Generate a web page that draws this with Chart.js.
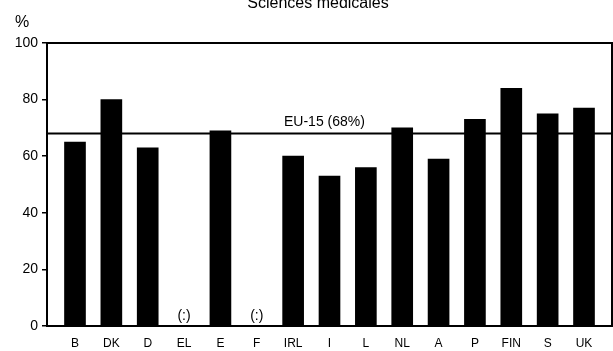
<!DOCTYPE html>
<html>
<head>
<meta charset="utf-8">
<script src="https://cdn.jsdelivr.net/npm/chart.js@4"></script>
<style>
  body { margin: 0; background: #fff; }
  #wrap { width: 613px; height: 351px; position: relative; }
</style>
</head>
<body>
<div id="wrap"><canvas id="bar-chart"></canvas></div>
<script>
const countries = ["B", "DK", "D", "EL", "E", "F", "IRL", "I", "L", "NL", "A", "P", "FIN", "S", "UK"];
const shares = [65, 80, 63, null, 69, null, 60, 53, 56, 70, 59, 73, 84, 75, 77];
const euAverage = 68;
const euLabel = "EU-15 (68%)";
const titleText = "Sciences médicales";
const missingText = "(:)";
const yTicks = [0, 20, 40, 60, 80, 100];

const FONT = "'Liberation Sans', Arial, Helvetica, sans-serif";

// frame, EU line and the loose texts
const extras = {
  id: 'extras',
  afterDraw(chart) {
    const ctx = chart.ctx;
    const area = chart.chartArea;
    const x = chart.scales.x;
    const y = chart.scales.y;
    ctx.save();
    ctx.strokeStyle = '#000';
    ctx.lineWidth = 2;
    ctx.strokeRect(area.left, area.top, area.right - area.left, area.bottom - area.top);

    const yEu = y.getPixelForValue(euAverage);
    ctx.beginPath();
    ctx.moveTo(area.left, yEu);
    ctx.lineTo(area.right, yEu);
    ctx.stroke();

    ctx.fillStyle = '#000';
    ctx.font = "14px " + FONT;
    ctx.textAlign = 'left';
    ctx.textBaseline = 'alphabetic';
    ctx.fillText(euLabel, area.left + 237, yEu - 8);

    ctx.font = "16px " + FONT;
    ctx.textAlign = 'center';
    ctx.fillText(titleText, 318, 8);

    ctx.textAlign = 'left';
    ctx.fillText("%", 15, 27);

    ctx.font = "14px " + FONT;
    ctx.textAlign = 'center';
    ctx.textBaseline = 'middle';
    shares.forEach((v, i) => {
      if (v === null) {
        ctx.fillText(missingText, x.getPixelForValue(i), y.getPixelForValue(3.5));
      }
    });
    ctx.restore();
  }
};

new Chart(document.getElementById("bar-chart"), {
  type: 'bar',
  data: {
    datasets: [
      {
        data: shares.map((v, i) => ({ x: i, y: v })),
        backgroundColor: '#000',
        borderWidth: 0,
        barThickness: 21
      }
    ]
  },
  options: {
    responsive: true,
    maintainAspectRatio: false,
    animation: false,
    layout: { padding: { top: 43, right: 1, left: 0, bottom: 0 } },
    plugins: {
      legend: { display: false },
      tooltip: { enabled: false }
    },
    scales: {
      x: {
        type: 'linear',
        min: -0.77,
        max: 14.77,
        offset: false,
        grid: { display: false, drawTicks: false },
        border: { display: false },
        ticks: {
          stepSize: 1,
          includeBounds: false,
          autoSkip: false,
          maxRotation: 0,
          padding: 10,
          color: '#000',
          font: { family: FONT, size: 12 },
          callback: (v) => countries[v] ?? ''
        },
        afterFit: (scale) => { scale.height = 25; }
      },
      y: {
        min: 0,
        max: 100,
        grid: { drawOnChartArea: false, tickLength: 5, color: '#000', lineWidth: 1.5 },
        border: { display: false },
        afterBuildTicks: (scale) => { scale.ticks = yTicks.map(v => ({ value: v })); },
        ticks: {
          padding: 4,
          color: '#000',
          font: { family: FONT, size: 14 }
        },
        afterFit: (scale) => { scale.width = 47; }
      }
    }
  },
  plugins: [extras]
});
</script>
</body>
</html>
